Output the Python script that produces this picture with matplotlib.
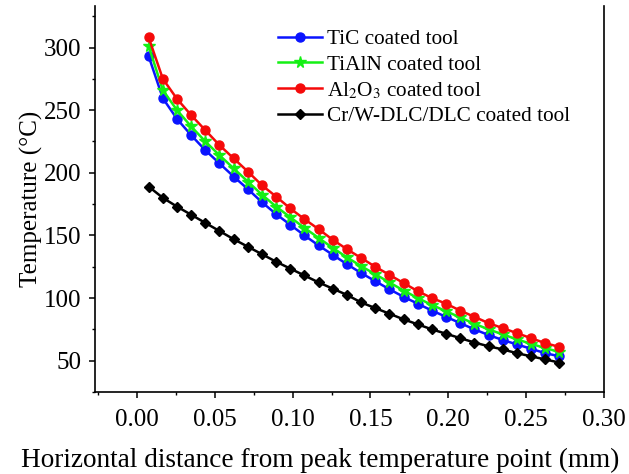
import matplotlib
matplotlib.use('Agg')
import matplotlib.pyplot as plt
from matplotlib.ticker import MultipleLocator

plt.rcParams['font.family'] = ['Liberation Serif', 'DejaVu Serif']
plt.rcParams['mathtext.fontset'] = 'stix'

# distance from peak temperature point (mm)
dist = [0.0075, 0.0166, 0.0257, 0.0348, 0.0439, 0.0530, 0.0621, 0.0712, 0.0803, 0.0894,
        0.0985, 0.1076, 0.1167, 0.1258, 0.1349, 0.1440, 0.1531, 0.1622, 0.1713, 0.1804,
        0.1895, 0.1986, 0.2077, 0.2168, 0.2259, 0.2350, 0.2441, 0.2532, 0.2623, 0.2714]

t_tic = [293, 259.5, 243, 230, 218, 207.5, 197, 187, 176.5, 167,
         158.5, 150, 142, 134.5, 127, 120, 113.5, 107, 101, 95.5,
         90, 85, 80, 75, 70.5, 66.5, 63, 59.5, 56, 53.5]
t_tialn = [301, 266, 250, 237, 225, 214, 203.5, 193, 182.5, 173,
           164.5, 156, 148, 140, 132.5, 125.5, 119, 112.5, 106, 100,
           94.5, 89.5, 84.5, 79.5, 75, 71, 67, 63.5, 60, 57]
t_al2o3 = [308, 275, 259, 246, 234, 222, 211.5, 201, 190, 181,
           171.5, 163, 155, 146.5, 139, 132, 125, 118.5, 112, 105.5,
           100, 95.5, 90, 85, 80, 76, 72, 68, 64, 61]
t_dlc = [189, 180, 173, 166.5, 160, 153.5, 147, 141, 135, 129,
         123.5, 118, 112.5, 107.5, 102.5, 96.5, 92, 87.5, 83, 79,
         75, 71.5, 68, 64.5, 61.5, 59, 56, 53.5, 51, 48.5]

fig = plt.figure(figsize=(6.29, 4.74), dpi=100)
ax = fig.add_axes([0.151, 0.173, 0.809, 0.814])

ax.plot(dist, t_tic, color='#0a14ff', marker='o', ms=6.5, lw=1.8, label='TiC coated tool')
ax.plot(dist, t_tialn, color='#14f014', marker='*', ms=8.5, lw=1.8, label='TiAlN coated tool')
ax.plot(dist, t_al2o3, color='#f50a0a', marker='o', ms=6.5, lw=1.8, label=r'Al$_2$O$_3$ coated tool')
ax.plot(dist, t_dlc, color='black', marker='D', ms=5.5, lw=1.8, label='Cr/W-DLC/DLC coated tool')

ax.set_xlim(-0.027, 0.30)
ax.set_ylim(25, 333)
ax.xaxis.set_major_locator(MultipleLocator(0.05))
ax.xaxis.set_minor_locator(MultipleLocator(0.025))
ax.yaxis.set_major_locator(MultipleLocator(50))
ax.yaxis.set_minor_locator(MultipleLocator(25))
ax.xaxis.set_major_formatter(plt.FormatStrFormatter('%.2f'))

ax.spines['top'].set_visible(False)
for s in ['left', 'bottom', 'right']:
    ax.spines[s].set_linewidth(1.2)
ax.tick_params(which='major', direction='out', length=4, width=1.1, labelsize=18, right=False, top=False)
ax.tick_params(which='minor', direction='out', length=2.5, width=1.0, right=False, top=False)
ax.tick_params(axis='x', pad=8)
ax.tick_params(axis='y', pad=6)

ax.set_xlabel('Horizontal distance from peak temperature point (mm)', fontsize=19.6)
ax.xaxis.set_label_coords(0.442, -0.146)
ax.set_ylabel('Temperature (\u00b0C)', fontsize=18)
ax.yaxis.set_label_coords(-0.103, 0.5)

ax.legend(loc='upper left', bbox_to_anchor=(0.36, 0.94), frameon=False, fontsize=15.3,
          handlelength=2.05, handletextpad=0.25, labelspacing=0.26,
          borderpad=0, borderaxespad=0)

fig.savefig('out.png', dpi=100)
